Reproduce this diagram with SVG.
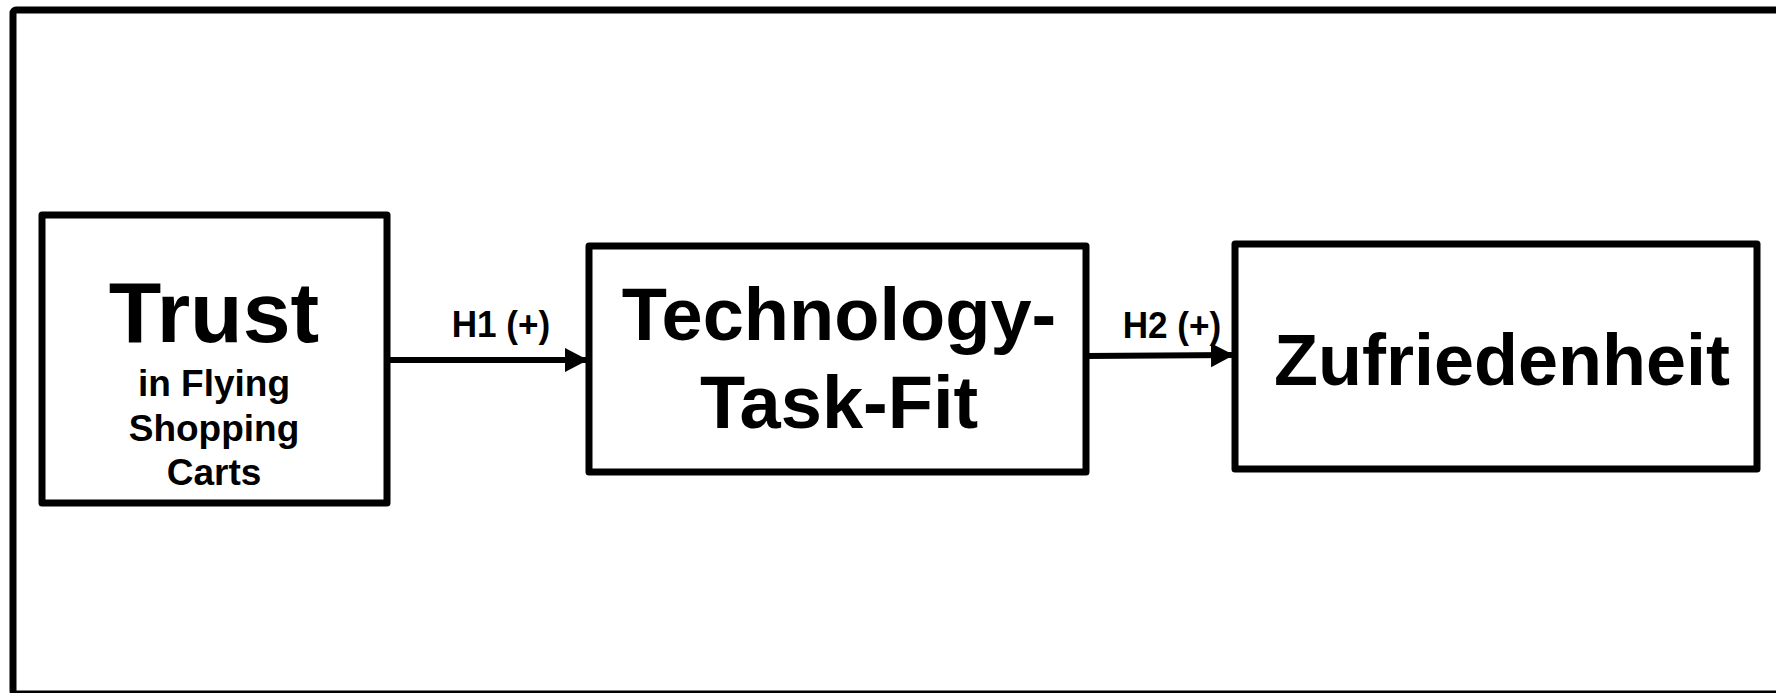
<svg xmlns="http://www.w3.org/2000/svg" width="1776" height="693" viewBox="0 0 1776 693">
<style>
.box{fill:#fff;stroke:#000;stroke-width:7;stroke-linejoin:round}
.t{font-family:"Liberation Sans",Arial,sans-serif;font-weight:bold;fill:#000;text-anchor:middle}
.edge{stroke:#000;stroke-width:6;fill:none}
</style>
<defs>
<marker id="ah" markerUnits="userSpaceOnUse" markerWidth="26" markerHeight="26" refX="23" refY="12" orient="auto">
<path d="M0,0 L23,12 L0,24 Z" fill="#000"/>
</marker>
</defs>
<rect width="1776" height="693" fill="#fff"/>
<rect id="frame" x="13" y="10" width="1790" height="684" rx="3" fill="none" stroke="#000" stroke-width="7"/>
<g id="connectors">
<line class="edge" x1="387" y1="360" x2="588" y2="360" marker-end="url(#ah)"/>
<text class="t" x="501" y="337" font-size="37" transform="translate(501 337) scale(0.95 1) translate(-501 -337)">H1 (+)</text>
<line class="edge" x1="1086" y1="356" x2="1234" y2="355" marker-end="url(#ah)"/>
<text class="t" x="1172" y="338" font-size="37" transform="translate(1172 338) scale(0.95 1) translate(-1172 -338)">H2 (+)</text>
</g>
<g id="trust">
<rect class="box" x="42" y="215" width="345" height="288"/>
<text class="t" x="214" y="342" font-size="86">Trust</text>
<text class="t" x="214" y="396" font-size="37">in Flying</text>
<text class="t" x="214" y="441" font-size="37">Shopping</text>
<text class="t" x="214" y="485" font-size="37">Carts</text>
</g>
<g id="ttf">
<rect class="box" x="589" y="246" width="497" height="226"/>
<text class="t" x="839" y="340" font-size="74">Technology-</text>
<text class="t" x="839" y="428" font-size="74">Task-Fit</text>
</g>
<g id="zufriedenheit">
<rect class="box" x="1235" y="244" width="522" height="225"/>
<text class="t" x="1502" y="385" font-size="72">Zufriedenheit</text>
</g>
</svg>
